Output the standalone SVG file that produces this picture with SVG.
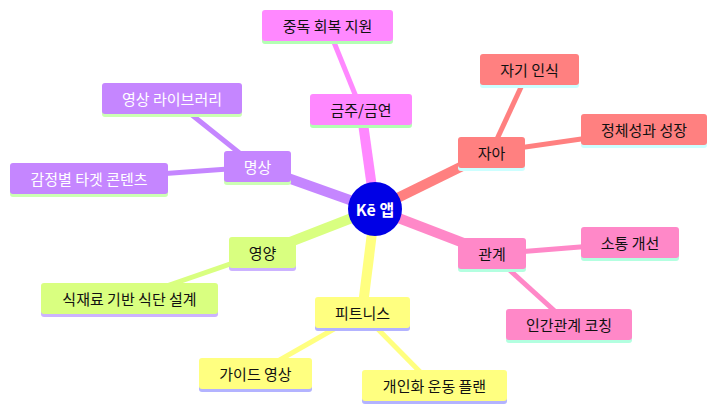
<svg xmlns="http://www.w3.org/2000/svg" width="725" height="418" viewBox="0 0 725 418">
<style>
text{font-family:"Noto Sans CJK KR","Noto Sans",sans-serif;font-size:15px;text-anchor:middle;dominant-baseline:central;fill:#111}
.w{fill:#fff}
.l1{stroke-width:10;stroke-linecap:butt;fill:none}
.l2{stroke-width:5;fill:none}
.a{fill:#ff8080}.as{fill:#ccffff}
.b{fill:#c586ff}.bs{fill:#ccffb3}
.c{fill:#d9ff80}.cs{fill:#ccb3ff}
.d{fill:#ffff80}.ds{fill:#b3b3ff}
.e{fill:#ff88c8}.es{fill:#b3ffe0}
.f{fill:#ff88ff}.fs{fill:#b3ffb3}
</style>
<g id="connectors">
<line class="l1" x1="375" y1="209" x2="361" y2="109" stroke="#ff88ff"/>
<line class="l2" x1="361" y1="109" x2="327" y2="25" stroke="#ff88ff"/>
<line class="l1" x1="375" y1="209" x2="491" y2="152" stroke="#ff8080"/>
<line class="l2" x1="491" y1="152" x2="529" y2="70" stroke="#ff8080"/>
<line class="l2" x1="491" y1="152" x2="644" y2="130" stroke="#ff8080"/>
<line class="l1" x1="375" y1="209" x2="257" y2="167" stroke="#c586ff"/>
<line class="l2" x1="257" y1="167" x2="172" y2="99" stroke="#c586ff"/>
<line class="l2" x1="257" y1="167" x2="89" y2="179" stroke="#c586ff"/>
<line class="l1" x1="375" y1="209" x2="262" y2="253" stroke="#d9ff80"/>
<line class="l2" x1="262" y1="253" x2="129" y2="299" stroke="#d9ff80"/>
<line class="l1" x1="375" y1="209" x2="362" y2="313" stroke="#ffff80"/>
<line class="l2" x1="362" y1="313" x2="255" y2="374" stroke="#ffff80"/>
<line class="l2" x1="362" y1="313" x2="434" y2="386" stroke="#ffff80"/>
<line class="l1" x1="375" y1="209" x2="492" y2="254" stroke="#ff88c8"/>
<line class="l2" x1="492" y1="254" x2="630" y2="243" stroke="#ff88c8"/>
<line class="l2" x1="492" y1="254" x2="569" y2="324" stroke="#ff88c8"/>
</g>
<g id="center"><circle cx="375" cy="209" r="27" fill="#0000e6"/><text x="375" y="209" class="w" style="font-weight:bold;font-size:16px">Kē 앱</text></g>
<g id="n-geumju"><rect class="fs" x="310" y="97" width="102" height="31" rx="3"/><rect class="f" x="310" y="94" width="102" height="31" rx="3"/><text x="361" y="109.5">금주/금연</text></g>
<g id="n-jungdok"><rect class="fs" x="262" y="13" width="131" height="31" rx="3"/><rect class="f" x="262" y="10" width="131" height="31" rx="3"/><text x="327.5" y="25.5">중독 회복 지원</text></g>
<g id="n-jaa"><rect class="as" x="458" y="140" width="67" height="31" rx="3"/><rect class="a" x="458" y="137" width="67" height="31" rx="3"/><text x="491.5" y="152.5">자아</text></g>
<g id="n-jagi"><rect class="as" x="480" y="57" width="99" height="31" rx="3"/><rect class="a" x="480" y="54" width="99" height="31" rx="3"/><text x="529.5" y="69.5">자기 인식</text></g>
<g id="n-jeongche"><rect class="as" x="581" y="117" width="126" height="31" rx="3"/><rect class="a" x="581" y="114" width="126" height="31" rx="3"/><text x="644" y="129.5">정체성과 성장</text></g>
<g id="n-myeongsang"><rect class="bs" x="224" y="154" width="67" height="31" rx="3"/><rect class="b" x="224" y="151" width="67" height="31" rx="3"/><text class="w" x="257.5" y="166.5">명상</text></g>
<g id="n-library"><rect class="bs" x="102" y="86" width="140" height="31" rx="3"/><rect class="b" x="102" y="83" width="140" height="31" rx="3"/><text class="w" x="172" y="98.5">영상 라이브러리</text></g>
<g id="n-gamjeong"><rect class="bs" x="10" y="166" width="158" height="31" rx="3"/><rect class="b" x="10" y="163" width="158" height="31" rx="3"/><text class="w" x="89" y="178.5">감정별 타겟 콘텐츠</text></g>
<g id="n-yeongyang"><rect class="cs" x="229" y="240" width="67" height="31" rx="3"/><rect class="c" x="229" y="237" width="67" height="31" rx="3"/><text x="262.5" y="252.5">영양</text></g>
<g id="n-sikjae"><rect class="cs" x="41" y="286" width="177" height="31" rx="3"/><rect class="c" x="41" y="283" width="177" height="31" rx="3"/><text x="129.5" y="298.5">식재료 기반 식단 설계</text></g>
<g id="n-fitness"><rect class="ds" x="315" y="300" width="95" height="31" rx="3"/><rect class="d" x="315" y="297" width="95" height="31" rx="3"/><text x="362.5" y="312.5">피트니스</text></g>
<g id="n-guide"><rect class="ds" x="199" y="361" width="113" height="31" rx="3"/><rect class="d" x="199" y="358" width="113" height="31" rx="3"/><text x="255.5" y="373.5">가이드 영상</text></g>
<g id="n-plan"><rect class="ds" x="362" y="373" width="145" height="31" rx="3"/><rect class="d" x="362" y="370" width="145" height="31" rx="3"/><text x="434.5" y="385.5">개인화 운동 플랜</text></g>
<g id="n-gwangye"><rect class="es" x="458" y="241" width="68" height="31" rx="3"/><rect class="e" x="458" y="238" width="68" height="31" rx="3"/><text x="492" y="253.5">관계</text></g>
<g id="n-sotong"><rect class="es" x="581" y="230" width="98" height="31" rx="3"/><rect class="e" x="581" y="227" width="98" height="31" rx="3"/><text x="630" y="242.5">소통 개선</text></g>
<g id="n-coaching"><rect class="es" x="506" y="312" width="126" height="31" rx="3"/><rect class="e" x="506" y="309" width="126" height="31" rx="3"/><text x="569" y="324.5">인간관계 코칭</text></g>
</svg>
